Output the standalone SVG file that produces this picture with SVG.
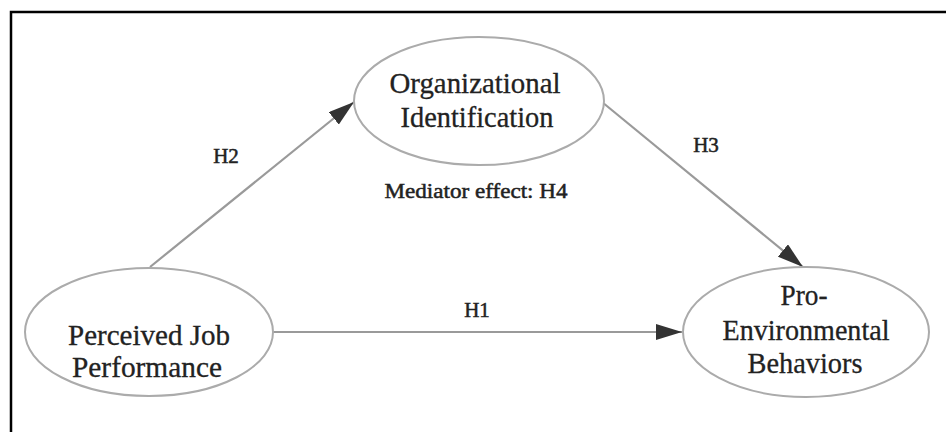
<svg xmlns="http://www.w3.org/2000/svg" width="946" height="432" viewBox="0 0 946 432">
<style>
.frame{fill:none;stroke:#000;stroke-width:2.5}
.node ellipse{fill:#fff;stroke:#ababab;stroke-width:2}
.edge{fill:none;stroke:#9a9a9a;stroke-width:2.2}
.big{font-family:"Liberation Serif","Times New Roman",serif;font-size:30px;fill:#222;stroke:#222;stroke-width:0.3;text-anchor:middle}
.lbl{font-family:"Liberation Serif","Times New Roman",serif;font-size:21px;fill:#222;stroke:#222;stroke-width:0.5;text-anchor:middle}
</style>
<defs>
<marker id="ah" markerUnits="userSpaceOnUse" markerWidth="26" markerHeight="16" refX="26" refY="8" orient="auto">
<path d="M0,0 L26,8 L0,16 Z" fill="#333"/>
</marker>
</defs>
<rect width="946" height="432" fill="#fff"/>
<path class="frame" d="M11,432 V12 H946"/>
<g id="connectors">
<line class="edge" x1="273" y1="332" x2="682" y2="332" marker-end="url(#ah)"/>
<line class="edge" x1="150" y1="267" x2="354" y2="102" marker-end="url(#ah)"/>
<line class="edge" x1="602" y1="102" x2="803" y2="267" marker-end="url(#ah)"/>
<text class="lbl" x="477" y="317">H1</text>
<text class="lbl" x="226" y="163">H2</text>
<text class="lbl" x="706" y="152">H3</text>
<text class="lbl" x="476" y="198" textLength="183" lengthAdjust="spacingAndGlyphs">Mediator effect: H4</text>
</g>
<g id="org" class="node">
<ellipse cx="479" cy="101" rx="125" ry="64"/>
<text class="big" x="475" y="93" textLength="171" lengthAdjust="spacingAndGlyphs">Organizational</text>
<text class="big" x="477" y="127" textLength="153" lengthAdjust="spacingAndGlyphs">Identification</text>
</g>
<g id="pjp" class="node">
<ellipse cx="149" cy="332" rx="124" ry="64"/>
<text class="big" x="149" y="345" textLength="162" lengthAdjust="spacingAndGlyphs">Perceived Job</text>
<text class="big" x="147" y="377" textLength="150" lengthAdjust="spacingAndGlyphs">Performance</text>
</g>
<g id="peb" class="node">
<ellipse cx="806" cy="332" rx="123" ry="65"/>
<text class="big" x="804" y="305" textLength="47" lengthAdjust="spacingAndGlyphs">Pro-</text>
<text class="big" x="806" y="340" textLength="167" lengthAdjust="spacingAndGlyphs">Environmental</text>
<text class="big" x="805" y="373" textLength="115" lengthAdjust="spacingAndGlyphs">Behaviors</text>
</g>
</svg>
